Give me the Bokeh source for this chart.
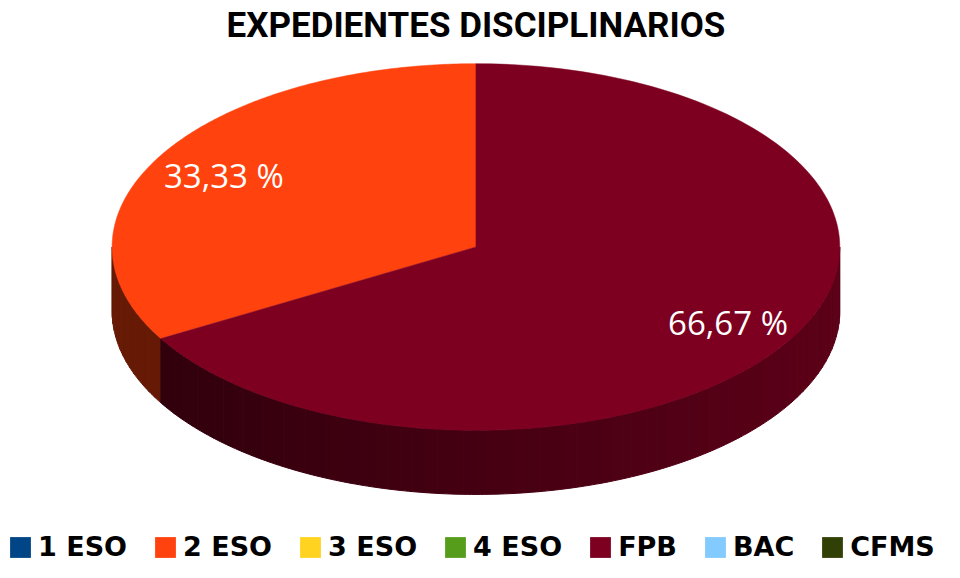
import numpy as np
from bokeh.plotting import figure
from bokeh.models import Range1d, Legend, LegendItem
from bokeh.core.properties import value
from bokeh.embed import file_html
from bokeh.resources import INLINE

title = "EXPEDIENTES DISCIPLINARIOS"
categories = ["1 ESO", "2 ESO", "3 ESO", "4 ESO", "FPB", "BAC", "CFMS"]
counts = [0, 1, 0, 0, 2, 0, 0]
colors = ["#004586", "#ff420e", "#ffd320", "#579d1c", "#7e0021", "#83caff", "#314004"]

W, H = 944, 562
p = figure(width=W, height=H, output_backend="svg", toolbar_location=None,
           x_range=Range1d(0, 960), y_range=Range1d(578, 0),
           min_border=0, outline_line_color=None)
p.axis.visible = False
p.grid.visible = False
p.background_fill_color = "white"

# pie geometry (reference-picture coordinates, y downwards)
cx, cy, rx, ry, depth = 483.5, 253.5, 370.0, 188.5, 66.0

def shade(hexcol, f):
    h = hexcol.lstrip("#")
    r, g, b = (int(h[i:i + 2], 16) for i in (0, 2, 4))
    return "#%02x%02x%02x" % (int(r * f), int(g * f), int(b * f))

total = float(sum(counts))
start = 90.0
slices = []
for cat, c, col in zip(categories, counts, colors):
    if c <= 0:
        continue
    span = 360.0 * c / total
    slices.append((cat, c, col, start, start + span))
    start += span

# side strips (visible front: 180..360 deg)
sxs, sys, scs = [], [], []
for cat, c, col, a, b in slices:
    for off in (0.0, 360.0):
        lo = max(a - off, 180.0)
        hi = min(b - off, 360.0)
        if hi <= lo:
            continue
        n = max(2, int((hi - lo) / 2.0))
        edges = np.linspace(lo, hi, n + 1)
        for e0, e1 in zip(edges[:-1], edges[1:]):
            t = np.radians(np.linspace(e0, e1, 4))
            xs = cx + rx * np.cos(t)
            ys = cy - ry * np.sin(t)
            px = np.concatenate([xs, xs[::-1]])
            py = np.concatenate([ys, ys[::-1] + depth])
            xm = cx + rx * np.cos(np.radians((e0 + e1) / 2))
            fr = (xm - (cx - rx)) / (2 * rx)
            if col == "#ff420e":
                f = 0.40
            else:
                f = 0.37 + 0.36 * fr
            sxs.append(list(px)); sys.append(list(py)); scs.append(shade(col, f))
p.patches(sxs, sys, fill_color=scs, line_color=scs, line_width=1)

# top faces
txs, tys, tcs = [], [], []
for cat, c, col, a, b in slices:
    t = np.radians(np.linspace(a, b, 200))
    xs = np.concatenate([[cx], cx + rx * np.cos(t), [cx]])
    ys = np.concatenate([[cy], cy - ry * np.sin(t), [cy]])
    txs.append(list(xs)); tys.append(list(ys)); tcs.append(col)
p.patches(txs, tys, fill_color=tcs, line_color=tcs, line_width=0.5)

# percentage labels
lx, ly, lt = [], [], []
for cat, c, col, a, b in slices:
    m = np.radians((a + b) / 2)
    lx.append(cx + 0.8 * rx * np.cos(m))
    ly.append(cy - 0.8 * ry * np.sin(m) + 2)
    lt.append(("%.2f" % (100.0 * c / total)).replace(".", ",") + " %")
p.text(lx, ly, text=lt, text_color="white", text_font=value("Open Sans"),
       text_font_size="33px", text_align="center", text_baseline="middle")

# title
p.text([cx], [26], text=[title], text_color="black", text_font=value("Roboto"),
       text_font_style="bold", text_font_size="35px", text_align="center",
       text_baseline="middle")

# legend
items = []
for cat, col in zip(categories, colors):
    r = p.rect(x=[-5000], y=[-5000], width=1, height=1, fill_color=col, line_color=None)
    items.append(LegendItem(label=cat, renderers=[r]))
legend = Legend(items=items, orientation="horizontal", location=(7, 0),
                glyph_width=26, glyph_height=26, label_standoff=5, spacing=25,
                padding=0, margin=0, border_line_color=None,
                background_fill_alpha=0, label_text_font="DejaVu Sans",
                label_text_font_style="bold", label_text_font_size="27px",
                label_text_color="black")
p.add_layout(legend)

open("out.html", "w").write(file_html(p, INLINE))
